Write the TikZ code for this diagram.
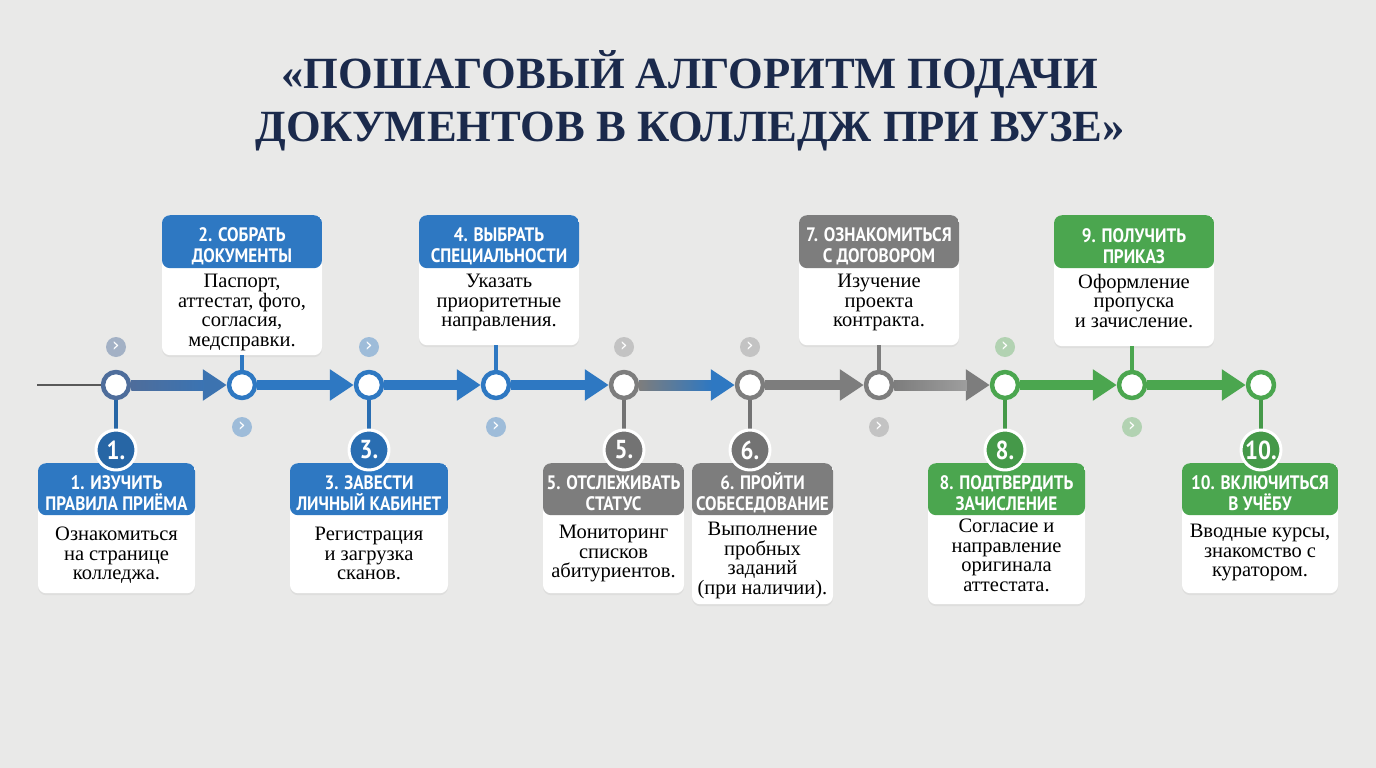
\documentclass[tikz,border=0pt]{standalone}
\usepackage{fontspec}
\setmainfont{Liberation Serif}
\newfontfamily\headfont[FakeStretch=0.88]{PT Sans}
\newfontfamily\symfont{DejaVu Sans}
\usetikzlibrary{arrows.meta,shadows,calc}

\definecolor{bgc}{HTML}{E9E9E8}
\definecolor{navy}{HTML}{1B2A4C}
\definecolor{slate}{HTML}{4E6D9B}
\definecolor{cblue}{HTML}{2E78C2}
\definecolor{cgray}{HTML}{7D7D7D}
\definecolor{cgreen}{HTML}{4BA64F}

\tikzset{
  dot/.style={circle, fill=white, line width=4.5pt, minimum size=26pt, inner sep=0pt},
  badge/.style={circle, draw=white, line width=3pt, minimum size=40pt, inner sep=0pt,
    text=white, font=\headfont\bfseries\fontsize{26}{26}\selectfont},
  chev/.style={circle, minimum size=20pt, inner sep=0pt, text=white,
    font=\symfont\fontsize{19}{19}\selectfont},
  card/.style={fill=white, rounded corners=8pt, inner sep=0pt,
    drop shadow={opacity=0.10, shadow xshift=0pt, shadow yshift=-2pt}},
  head/.style={text=white, align=center, inner sep=0pt,
    font=\headfont\bfseries\fontsize{19.5}{21}\selectfont},
  body/.style={text=black, align=center, inner sep=0pt,
    font=\fontsize{20.5}{19.5}\selectfont},
  flow/.style={line width=10pt, -{Triangle[length=24pt,width=30pt]}},
  stem/.style={line width=3.5pt},
}

\begin{document}
\begin{tikzpicture}[x=1pt,y=-1pt,line join=round]
\useasboundingbox (0,0) rectangle (1376,768);
\fill[bgc] (0,0) rectangle (1376,768);

% title
\node[text=navy, align=center, inner sep=0pt,
  font=\bfseries\fontsize{44.6}{53}\selectfont] (title) at (690,101)
  {«ПОШАГОВЫЙ АЛГОРИТМ ПОДАЧИ\\ДОКУМЕНТОВ В КОЛЛЕДЖ ПРИ ВУЗЕ»};

% cards above the line
\foreach \n/\cx/\h/\col/\hd/\bd in {
  2/242/140/cblue/{2. СОБРАТЬ\\ДОКУМЕНТЫ}/{Паспорт,\\аттестат, фото,\\согласия,\\медсправки.},
  4/499/130/cblue/{4. ВЫБРАТЬ\\СПЕЦИАЛЬНОСТИ}/{Указать\\приоритетные\\направления.},
  7/879/130/cgray/{7. ОЗНАКОМИТЬСЯ\\С ДОГОВОРОМ}/{Изучение\\проекта\\контракта.},
  9/1134/131/cgreen/{9. ПОЛУЧИТЬ\\ПРИКАЗ}/{Оформление\\пропуска\\и зачисление.}}
{
  \node[card, anchor=north, minimum width=160pt, minimum height=\h pt,
    path picture={\fill[\col] (path picture bounding box.north west)
      rectangle ([yshift=-53pt]path picture bounding box.north east);}]
    (c\n) at (\cx,215) {};
  \node[head] (h\n) at ($(c\n.north)+(0,31)$) {\hd};
  \node[body, anchor=north] (t\n) at ($(c\n.north)+(0,59)$) {\bd};
}

% cards below the line
\foreach \n/\cx/\w/\h/\bo/\col/\hd/\bd in {
  1/116.5/157/130/64/cblue/{1. ИЗУЧИТЬ\\ПРАВИЛА ПРИЁМА}/{Ознакомиться\\на странице\\колледжа.},
  3/369/158/130/64/cblue/{3. ЗАВЕСТИ\\ЛИЧНЫЙ КАБИНЕТ}/{Регистрация\\и загрузка\\сканов.},
  5/613.5/141/130/62/cgray/{5. ОТСЛЕЖИВАТЬ\\СТАТУС}/{Мониторинг\\списков\\абитуриентов.},
  6/762.5/141/141/59/cgray/{6. ПРОЙТИ\\СОБЕСЕДОВАНИЕ}/{Выполнение\\пробных\\заданий\\(при наличии).},
  8/1006.5/157/141/56/cgreen/{8. ПОДТВЕРДИТЬ\\ЗАЧИСЛЕНИЕ}/{Согласие и\\направление\\оригинала\\аттестата.},
  10/1260/156/130/61/cgreen/{10. ВКЛЮЧИТЬСЯ\\В УЧЁБУ}/{Вводные курсы,\\знакомство с\\куратором.}}
{
  \node[card, anchor=north, minimum width=\w pt, minimum height=\h pt,
    path picture={\fill[\col] (path picture bounding box.north west)
      rectangle ([yshift=-52pt]path picture bounding box.north east);}]
    (c\n) at (\cx,463) {};
  \node[head] (h\n) at ($(c\n.north)+(0,30)$) {\hd};
  \node[body, anchor=north] (t\n) at ($(c\n.north)+(0,\bo)$) {\bd};
}

% timeline
\foreach \n/\x/\col in {1/116/slate,2/242/cblue,3/369/cblue,4/496/cblue,5/624/cgray,
  6/750/cgray,7/879/cgray,8/1005/cgreen,9/1132/cgreen,10/1261/cgreen}
  \node[dot, draw=\col] (n\n) at (\x,385) {};

\coordinate (start) at (37,385);
\draw[line width=2.5pt, black!65] (start) -- (n1);

\foreach \a/\b/\col in {1/2/slate!45!cblue,2/3/cblue,3/4/cblue,4/5/cblue,5/6/cblue,
  6/7/cgray,7/8/cgray,8/9/cgreen,9/10/cgreen}
  \draw[flow, \col] (n\a) -- (n\b);
\shade[left color=slate, right color=slate!40!cblue]
  ($(n1.east)+(0,-5)$) rectangle ($(n2.west)+(-23,5)$);
\shade[left color=cgray, right color=cblue]
  ($(n5.east)+(0,-5)$) rectangle ($(n6.west)+(-23,5)$);
\shade[left color=cgray, right color=cgray!75]
  ($(n7.east)+(0,-5)$) rectangle ($(n8.west)+(-23,5)$);

% stems to the upper cards
\foreach \n/\col in {2/cblue,4/cblue,7/cgray,9/cgreen}
  \draw[stem, \col] (n\n.north) -- (n\n.north |- c\n.south);

% badges under the line
\foreach \n/\col in {1/cblue!85!black,3/cblue!92!black,5/cgray!92!black,
  6/cgray!92!black,8/cgreen!92!black,10/cgreen!92!black}
{
  \draw[stem, \col] (n\n.south) -- ++(0,40);
  \node[badge, fill=\col] (b\n) at ($(n\n)+(0,65)$) {\n.};
}

% small chevrons
\foreach \n/\x/\y/\col in {1/116/347/slate!45!bgc,2/242/427/cblue!40!bgc,
  3/369/347/cblue!40!bgc,4/496/427/cblue!40!bgc,5/624/347/cgray!35!bgc,
  6/750/347/cgray!35!bgc,7/879/427/cgray!35!bgc,8/1005/347/cgreen!35!bgc,
  9/1132/427/cgreen!35!bgc}
  \node[chev, fill=\col] (s\n) at (\x,\y) {›};
\end{tikzpicture}
\end{document}
